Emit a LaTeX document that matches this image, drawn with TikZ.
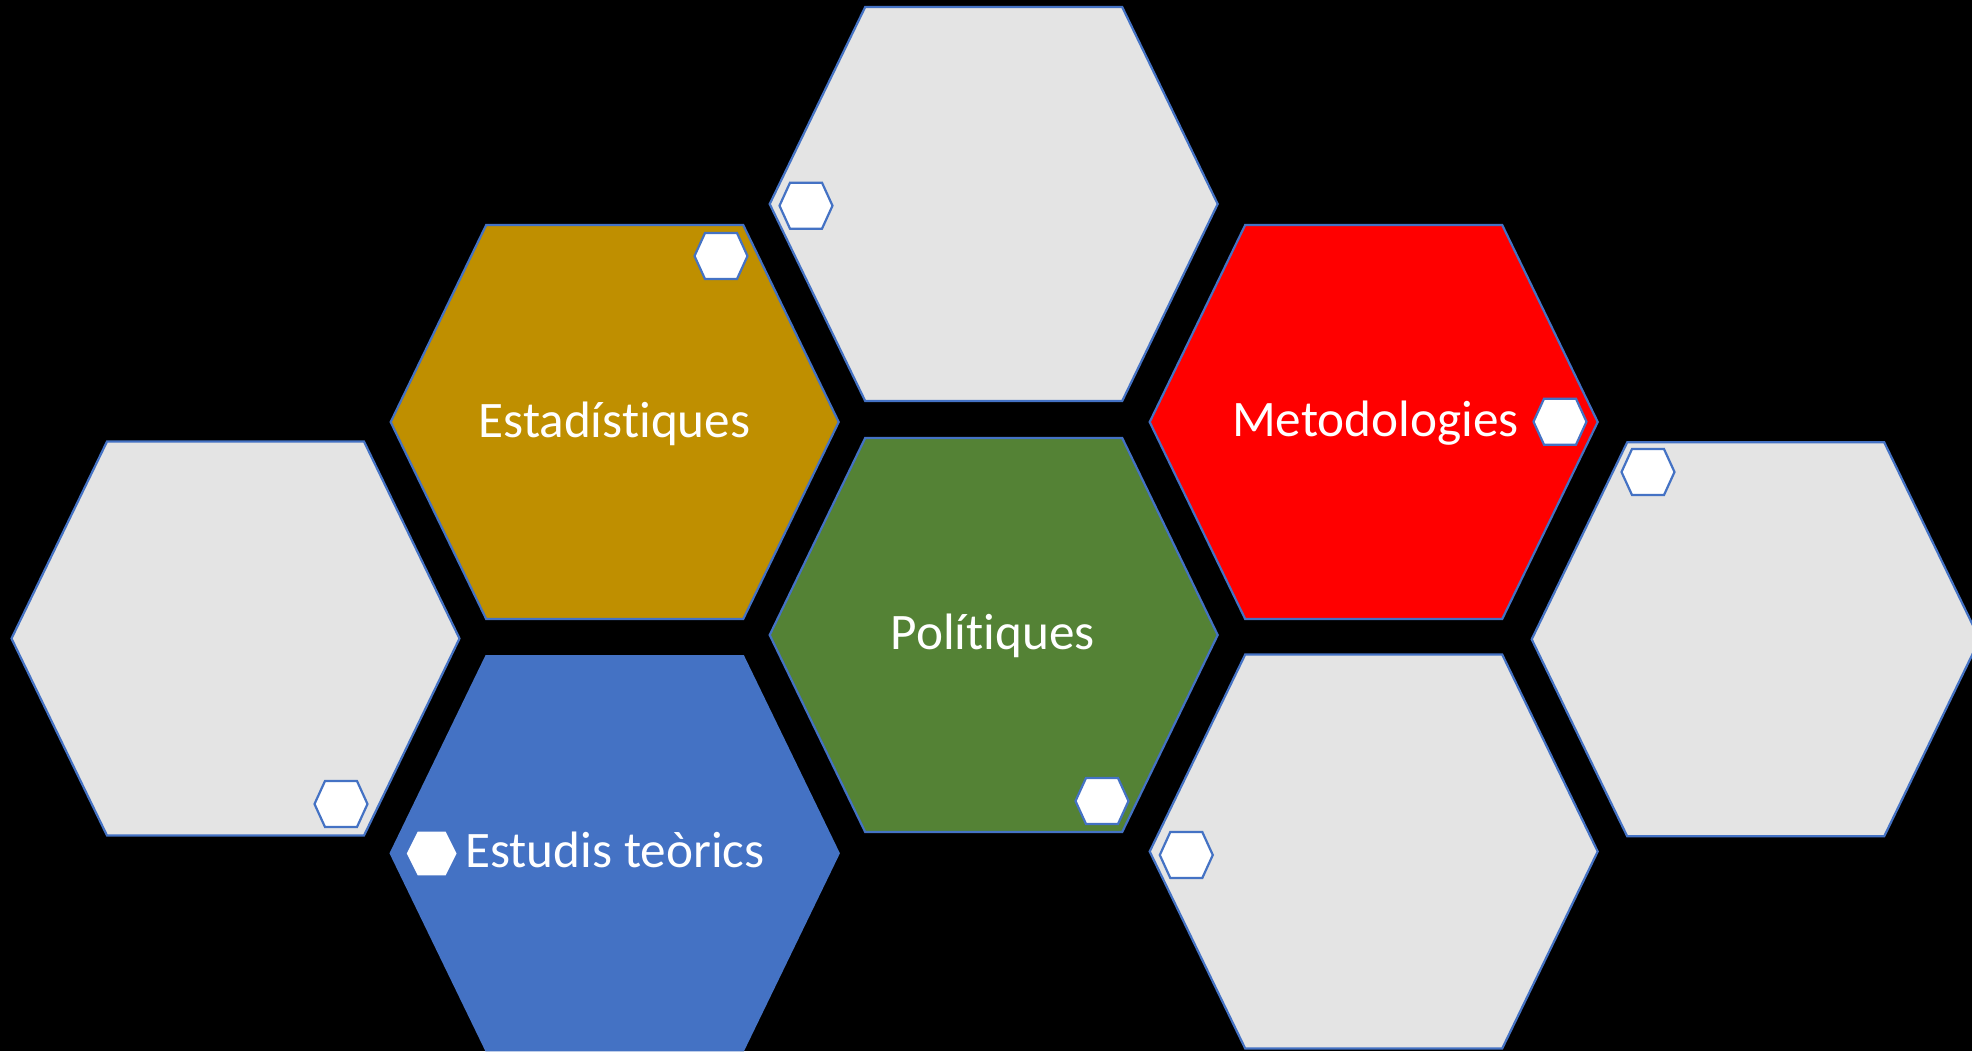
\documentclass[tikz,border=0pt]{standalone}
\usepackage{fontspec}
\setmainfont[Ligatures=NoCommon]{Carlito}
\definecolor{hexgold}{HTML}{BF8F00}
\definecolor{hexgreen}{HTML}{548235}
\definecolor{hexblue}{HTML}{4472C4}
\definecolor{hexred}{HTML}{FF0000}
\definecolor{hexgrey}{HTML}{E4E4E4}
\definecolor{hexedge}{HTML}{4472C4}
\tikzset{
  hexline/.style={draw=hexedge, line width=1.1pt, line join=miter},
  minihex/.style={draw=hexedge, fill=white, line width=1.1pt},
  minihexw/.style={draw=white, fill=white, line width=0.8pt},
  label/.style={text=white, inner sep=0pt, font=\fontsize{25.6}{30}\selectfont},
}
\newcommand{\bighex}[4]{%
  \coordinate (#1) at (#2,#3);
  \path[hexline, fill=#4, shift={(#2,#3)}] (-224,0) -- (-128.5,-197) -- (128.5,-197) -- (224,0) -- (128.5,197) -- (-128.5,197) -- cycle;
}
\newcommand{\smallhex}[4]{%
  \coordinate (#1) at (#2,#3);
  \path[#4, shift={(#2,#3)}] (-26.5,0) -- (-16,-23) -- (16,-23) -- (26.5,0) -- (16,23) -- (-16,23) -- cycle;
}
\begin{document}
\begin{tikzpicture}[x=0.5pt,y=-0.5pt]
\useasboundingbox (0,0) rectangle (1972,1051);
\clip (0,0) rectangle (1972,1051);
\fill[black] (0,0) rectangle (1972,1051);
% big hexagons
\bighex{htop}{993.7}{204}{hexgrey}
\bighex{hest}{614.7}{422}{hexgold}
\bighex{hmet}{1373.7}{422}{hexred}
\bighex{hleft}{235.5}{638.5}{hexgrey}
\bighex{hpol}{993.7}{635}{hexgreen}
\bighex{hright}{1755.7}{639.3}{hexgrey}
\bighex{hteo}{614.7}{853.3}{hexblue}
\bighex{hbr}{1373.7}{851.5}{hexgrey}
% small hexagons
\smallhex{stop}{806}{205.7}{minihex}
\smallhex{sest}{721}{256}{minihex}
\smallhex{smet}{1560}{421.7}{minihex}
\smallhex{sright}{1648}{472}{minihex}
\smallhex{sleft}{341}{804}{minihex}
\smallhex{spol}{1102}{801}{minihex}
\smallhex{sbr}{1186.3}{855}{minihex}
\path[minihexw, shift={(431.7,853.5)}] (-24,0) -- (-13.5,-21) -- (13.5,-21) -- (24,0) -- (13.5,21) -- (-13.5,21) -- cycle;
\coordinate (steo) at (431.7,853.5);
% labels
\node[label, anchor=base] (test) at (614.5,437.7) {Estadístiques};
\node[label, anchor=base] (tpol) at (992.8,649.3) {Polítiques};
\node[label, anchor=base west] (tmet) at (1231.7,436.7) {Metodologies};
\node[label, anchor=base west] (tteo) at (465,867.7) {Estudis teòrics};
\end{tikzpicture}
\end{document}
